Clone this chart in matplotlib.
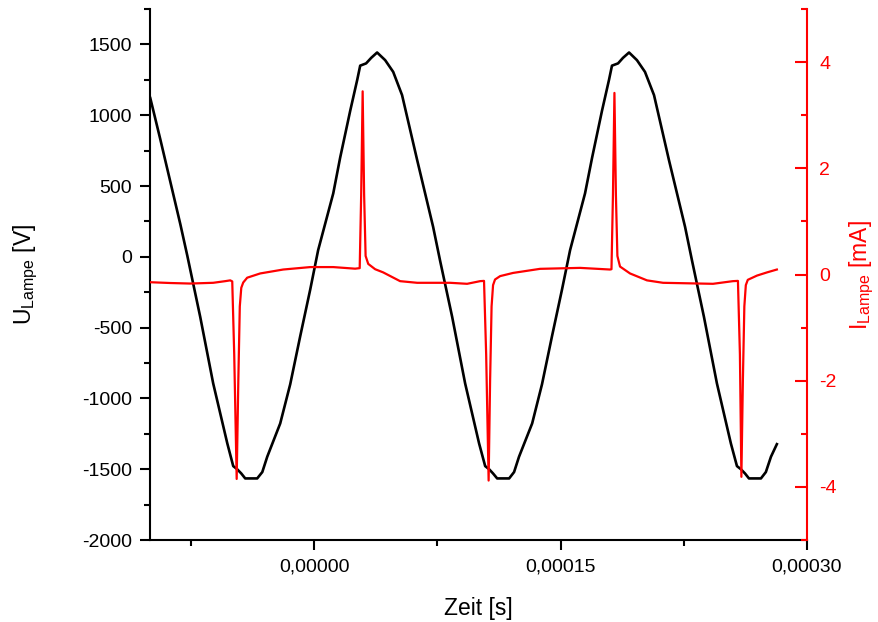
import numpy as np
import matplotlib
matplotlib.use("Agg")
import matplotlib.pyplot as plt
from matplotlib.ticker import MultipleLocator, FixedLocator, FuncFormatter

plt.rcParams['font.family'] = ['Liberation Sans', 'DejaVu Sans']
plt.rcParams['mathtext.default'] = 'regular'
plt.rcParams['axes.unicode_minus'] = False

# lamp voltage, time in microseconds
t_u = [-99.8, -93.7, -87.6, -81.5, -77.3, -69.4, -61.5, -52.9, -49.3, -46.9,
       -44.4, -42.0, -34.7, -31.6, -28.6, -20.7, -14.6, -8.5, -2.4, 2.4,
       11.6, 15.8, 21.9, 26.2, 28.0, 31.6, 34.7, 38.3, 43.2, 48.1,
       53.5, 62.7, 72.4, 76.7, 84.0, 91.9, 100.4, 104.1, 106.5, 108.9,
       111.4, 118.7, 121.7, 124.7, 132.7, 138.7, 144.8, 150.9, 155.8, 164.9,
       169.2, 175.2, 179.5, 181.3, 185.0, 188.0, 191.7, 196.5, 201.4, 206.9,
       216.0, 225.8, 230.1, 237.3, 245.2, 253.7, 257.4, 259.8, 262.3, 264.7,
       272.0, 275.0, 278.1, 281.7]
u_lampe = [1121, 830, 530, 230, 10, -424, -894, -1318, -1478, -1500,
           -1530, -1565, -1565, -1520, -1412, -1177, -900, -560, -230, 47,
           448, 700, 1030, 1250, 1350, 1366, 1405, 1443, 1389, 1306,
           1142, 683, 212, -30, -424, -894, -1318, -1478, -1500, -1530,
           -1565, -1565, -1520, -1412, -1177, -900, -560, -230, 47, 448,
           700, 1030, 1250, 1350, 1366, 1405, 1443, 1389, 1306, 1142,
           683, 212, -30, -424, -894, -1318, -1478, -1500, -1530, -1565,
           -1565, -1520, -1412, -1323]

# lamp current, time in microseconds
t_i = [-99.8, -87.6, -75.5, -61.5, -54.2, -51.1, -49.9, -48.7, -47.2, -46.2,
       -45.3, -44.4, -43.2, -40.8, -32.9, -18.9, -2.4, 11.6, 24.9, 27.7,
       28.6, 29.5, 30.4, 31.3, 32.9, 37.1, 42.0, 52.3, 62.7, 82.8,
       93.1, 101.0, 103.4, 104.7, 106.2, 107.1, 108.0, 108.9, 110.1, 113.2,
       121.1, 137.5, 161.9, 180.1, 181.0, 181.9, 182.8, 183.7, 184.6, 186.2,
       192.3, 202.6, 212.4, 242.8, 254.9, 258.0, 259.2, 260.1, 261.0, 261.9,
       262.8, 264.0, 269.6, 275.7, 281.7]
i_lampe = [-0.145, -0.16, -0.17, -0.156, -0.125, -0.11, -0.13, -1.5, -3.85, -2.0,
           -0.6, -0.25, -0.15, -0.06, 0.02, 0.094, 0.14, 0.14, 0.11, 0.12,
           1.5, 3.45, 1.5, 0.35, 0.2, 0.1, 0.04, -0.125, -0.156, -0.156,
           -0.175, -0.125, -0.12, -1.5, -3.88, -2.0, -0.6, -0.2, -0.094, -0.03,
           0.03, 0.107, 0.125, 0.094, 0.1, 1.5, 3.42, 1.5, 0.35, 0.15,
           0.02, -0.11, -0.156, -0.175, -0.125, -0.12, -1.5, -3.81, -2.0, -0.6,
           -0.2, -0.1, -0.02, 0.04, 0.094]

fig = plt.figure(figsize=(8.79, 6.22), dpi=100)
ax = fig.add_axes([0.1706, 0.1318, 0.7474, 0.8537])
ax2 = ax.twinx()

ax.plot(np.array(t_u) * 1e-6, u_lampe, color='black', lw=1.9)
ax2.plot(np.array(t_i) * 1e-6, i_lampe, color='red', lw=1.6)

ax.set_xlim(-0.0001, 0.0003)
ax.set_ylim(-2000, 1750)
ax2.set_ylim(-5, 5)

ax.xaxis.set_major_locator(FixedLocator([0, 0.00015, 0.0003]))
ax.xaxis.set_minor_locator(MultipleLocator(0.000075))
ax.xaxis.set_major_formatter(FuncFormatter(lambda v, p: f"{v:.5f}".replace('.', ',')))
ax.yaxis.set_major_locator(MultipleLocator(500))
ax.yaxis.set_minor_locator(MultipleLocator(250))
ax2.yaxis.set_major_locator(MultipleLocator(2))
ax2.yaxis.set_minor_locator(MultipleLocator(1))

for a in (ax, ax2):
    a.spines['top'].set_visible(False)
    for s in a.spines.values():
        s.set_linewidth(1.5)
ax.spines['right'].set_visible(False)
ax2.spines['left'].set_visible(False)
ax2.spines['bottom'].set_visible(False)
ax2.spines['right'].set_color('red')

ax.tick_params(axis='both', which='major', direction='out', length=7.5, width=1.5,
               labelsize=14, pad=5.5)
ax.tick_params(axis='both', which='minor', direction='out', length=4, width=1.5)
ax2.tick_params(axis='y', which='major', direction='in', length=8.5, width=1.5,
                colors='red', labelsize=14, pad=9)
ax2.tick_params(axis='y', which='minor', direction='in', length=4, width=1.5, colors='red')

ax.set_xlabel('Zeit [s]', fontsize=16.5, labelpad=16)
ax.set_ylabel('U$_{Lampe}$ [V]', fontsize=16.5)
ax.yaxis.set_label_coords(-0.168, 0.5)
ax2.set_ylabel('I$_{Lampe}$ [mA]', fontsize=16.5, color='red')
ax2.yaxis.set_label_coords(1.062, 0.5)

fig.savefig('out.png', dpi=100)
